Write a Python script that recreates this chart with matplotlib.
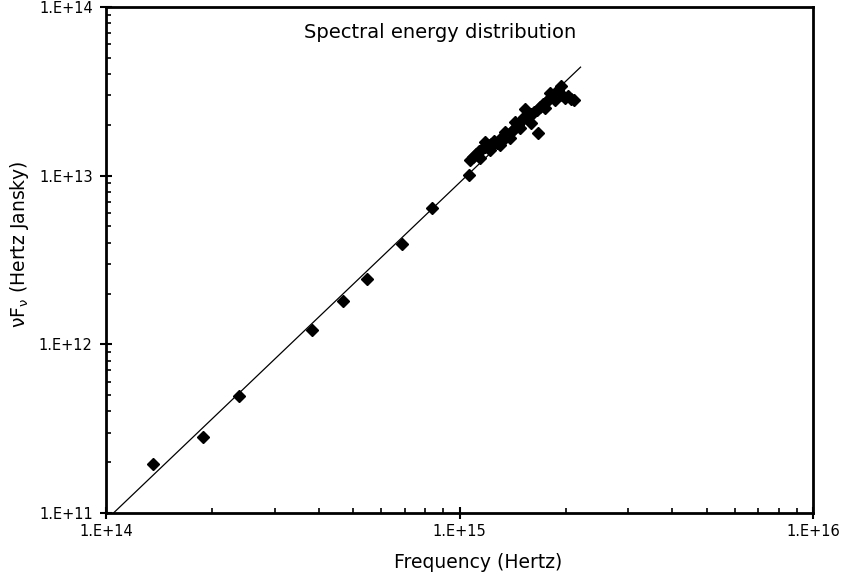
import matplotlib
matplotlib.use("Agg")
import matplotlib.pyplot as plt
from matplotlib.ticker import FixedLocator, FixedFormatter, LogLocator, NullFormatter

# Data
freq_hz = [1.36e14, 1.88e14, 2.38e14, 3.82e14, 4.69e14, 5.47e14, 6.86e14, 8.38e14, 1.064e15,
           1.071e15, 1.092e15, 1.113e15, 1.136e15, 1.158e15, 1.181e15, 1.204e15, 1.228e15,
           1.252e15, 1.277e15, 1.302e15, 1.328e15, 1.354e15, 1.380e15, 1.408e15, 1.435e15,
           1.464e15, 1.493e15, 1.522e15, 1.532e15, 1.562e15, 1.593e15, 1.625e15, 1.657e15,
           1.689e15, 1.723e15, 1.757e15, 1.792e15, 1.827e15, 1.863e15, 1.900e15, 1.937e15,
           1.950e15, 1.988e15, 2.027e15, 2.067e15, 2.108e15,
           1.143e15, 1.220e15, 1.302e15, 1.390e15, 1.483e15, 1.745e15, 1.863e15,
           1.181e15, 1.345e15, 1.435e15, 1.803e15,
           1.590e15, 1.664e15]
nufnu_hzjy = [1.95e11, 2.81e11, 4.94e11, 1.22e12, 1.81e12, 2.44e12, 3.92e12, 6.40e12, 1.01e13,
              1.24e13, 1.29e13, 1.34e13, 1.40e13, 1.44e13, 1.48e13, 1.52e13, 1.54e13,
              1.60e13, 1.56e13, 1.65e13, 1.63e13, 1.72e13, 1.76e13, 1.84e13, 1.92e13,
              2.00e13, 2.11e13, 2.23e13, 2.48e13, 2.20e13, 2.32e13, 2.38e13, 2.45e13,
              2.55e13, 2.66e13, 2.73e13, 2.85e13, 2.96e13, 3.05e13, 3.22e13, 3.40e13,
              3.00e13, 2.88e13, 2.96e13, 2.85e13, 2.81e13,
              1.27e13, 1.42e13, 1.52e13, 1.67e13, 1.92e13, 2.52e13, 2.81e13,
              1.58e13, 1.81e13, 2.08e13, 3.09e13,
              2.04e13, 1.78e13]

# Power-law trend line endpoints
trend_x = [1.05e14, 2.2e15]
trend_y = [1.0e11, 4.4e13]

x_ticks = [1e14, 1e15, 1e16]
x_tick_labels = ["1.E+14", "1.E+15", "1.E+16"]
y_ticks = [1e11, 1e12, 1e13, 1e14]
y_tick_labels = ["1.E+11", "1.E+12", "1.E+13", "1.E+14"]

plt.rcParams['font.family'] = ['DejaVu Sans']

W, H = 844, 578
fig = plt.figure(figsize=(W / 100, H / 100), dpi=100)
ax = fig.add_axes([106 / W, 1 - 513 / H, 707 / W, 506 / H])

ax.plot(trend_x, trend_y, color='black', lw=0.9, zorder=2)
ax.plot(freq_hz, nufnu_hzjy, linestyle='none', marker='D', markersize=6.3,
        color='black', zorder=3)

ax.set_xscale('log')
ax.set_yscale('log')
ax.set_xlim(1e14, 1e16)
ax.set_ylim(1e11, 1e14)

ax.xaxis.set_major_locator(FixedLocator(x_ticks))
ax.xaxis.set_major_formatter(FixedFormatter(x_tick_labels))
ax.yaxis.set_major_locator(FixedLocator(y_ticks))
ax.yaxis.set_major_formatter(FixedFormatter(y_tick_labels))
ax.xaxis.set_minor_locator(LogLocator(base=10, subs=range(2, 10), numticks=20))
ax.yaxis.set_minor_locator(LogLocator(base=10, subs=range(2, 10), numticks=20))
ax.xaxis.set_minor_formatter(NullFormatter())
ax.yaxis.set_minor_formatter(NullFormatter())

ax.tick_params(which='major', direction='inout', length=8, width=1.5,
               labelsize=10.5, color='black')
ax.tick_params(axis='y', which='major', pad=5.5)
ax.tick_params(axis='x', which='major', pad=4)
ax.tick_params(which='minor', direction='in', length=3.5, width=1.2, color='black')

for s in ax.spines.values():
    s.set_linewidth(2.0)
    s.set_color('black')

ax.text(0.472, 0.95, "Spectral energy distribution", transform=ax.transAxes,
        ha='center', va='center', fontsize=14)

fig.text(478 / W, 1 - 563 / H, "Frequency (Hertz)", ha='center', va='center',
         fontsize=13.5)
fig.text(20 / W, 1 - 244 / H, r"νF$_\mathregular{ν}$ (Hertz Jansky)", ha='center',
         va='center', rotation=90, fontsize=13.5)

fig.savefig("out.png", dpi=100)
